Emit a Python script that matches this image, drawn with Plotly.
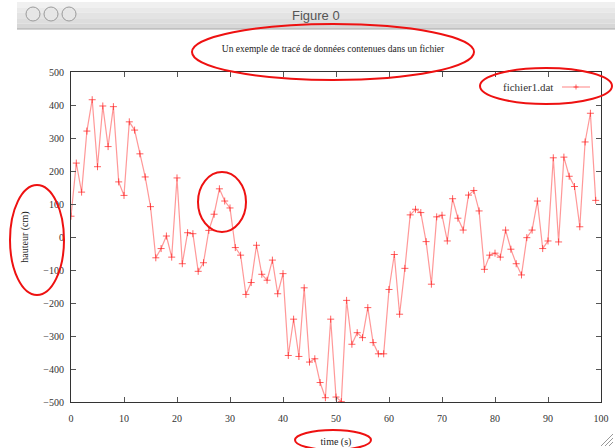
import plotly.graph_objects as go

# hauteur (cm) relevée à chaque pas de temps (s), contenu de fichier1.dat
hauteur = [
    63, 224, 136, 321, 416, 213, 397, 274, 395, 167,
    126, 349, 324, 252, 182, 92, -63, -35, 3, -61,
    179, -81, 13, 10, -104, -78, 20, 69, 146, 109,
    88, -32, -55, -174, -138, -25, -113, -131, -70, -172,
    -111, -359, -249, -362, -154, -379, -369, -441, -487, -249,
    -485, -499, -192, -325, -290, -305, -214, -320, -354, -354,
    -159, -53, -234, -95, 67, 84, 74, -14, -143, 61,
    66, -12, 116, 57, 21, 127, 141, 79, -98, -55,
    -49, -61, 21, -37, -81, -115, -2, 21, 109, -35,
    -12, 240, -15, 242, 184, 153, 31, 288, 375, 111,
]
temps = list(range(len(hauteur)))

x_ticks = [0, 10, 20, 30, 40, 50, 60, 70, 80, 90, 100]
y_ticks = [-500, -400, -300, -200, -100, 0, 100, 200, 300, 400, 500]

titre = "Un exemple de tracé de données contenues dans un fichier"
nom_serie = "fichier1.dat"

W, H = 615, 448
L, R, T, B = 71, 601, 72, 402  # plot area in pixels

def px(x):
    return (x - L) / (R - L)

def py(y):
    return (B - y) / (B - T)

SERIE = "rgba(255,50,50,0.5)"
MARK = "rgba(255,30,30,0.7)"
SERIF = "Liberation Serif, Times New Roman, serif"

fig = go.Figure()
fig.add_trace(go.Scatter(
    x=temps, y=hauteur, mode="lines+markers", name=nom_serie,
    line=dict(color=SERIE, width=1.2),
    marker=dict(symbol="cross-thin", size=5, line=dict(color=MARK, width=1)),
    showlegend=False,
))

shapes = []
annotations = []

# window title bar
bands = ["#f0f0f0", "#e9e9e9", "#e3e3e3", "#dddddd", "#d7d7d7"]
top, bot = 2, 29
step = (bot - top) / len(bands)
for i, c in enumerate(bands):
    shapes.append(dict(type="rect", xref="paper", yref="paper",
                       x0=px(17), x1=px(615), y0=py(top + (i + 1) * step), y1=py(top + i * step),
                       fillcolor=c, line=dict(width=0), layer="below"))
shapes.append(dict(type="line", xref="paper", yref="paper",
                   x0=px(17), x1=px(615), y0=py(bot), y1=py(bot),
                   line=dict(color="#a8a8a8", width=1)))
for cx in (33, 51, 69):
    shapes.append(dict(type="circle", xref="paper", yref="paper",
                       x0=px(cx - 7), x1=px(cx + 7), y0=py(21), y1=py(7),
                       fillcolor="#e6e6e6", line=dict(color="#9a9a9a", width=1)))
annotations.append(dict(text="Figure 0", xref="paper", yref="paper",
                        x=px(316), y=py(15), xanchor="center", yanchor="middle", showarrow=False,
                        font=dict(family="Liberation Sans, Arial, sans-serif", size=13, color="#555555")))

# legend drawn gnuplot style: label then sample on the right
ly = py(87)
annotations.append(dict(text=nom_serie, xref="paper", yref="paper",
                        x=px(555), y=ly, xanchor="right", yanchor="middle", showarrow=False,
                        font=dict(family=SERIF, size=11, color="#333333")))
shapes.append(dict(type="line", xref="paper", yref="paper",
                   x0=px(562), x1=px(590), y0=ly, y1=ly,
                   line=dict(color=SERIE, width=1.2)))
shapes.append(dict(type="line", xref="paper", yref="paper",
                   x0=px(573.5), x1=px(578.5), y0=ly, y1=ly,
                   line=dict(color=MARK, width=1)))
shapes.append(dict(type="line", xref="paper", yref="paper",
                   x0=px(576), x1=px(576), y0=py(84.5), y1=py(89.5),
                   line=dict(color=MARK, width=1)))

# red hand-drawn highlight ellipses
def ellipse(cx, cy, rx, ry):
    shapes.append(dict(type="circle", xref="paper", yref="paper",
                       x0=px(cx - rx), x1=px(cx + rx), y0=py(cy + ry), y1=py(cy - ry),
                       line=dict(color="#ee1111", width=2)))

ellipse(333, 52, 141, 28)   # title
ellipse(546, 86, 66, 18)    # legend
ellipse(37, 240, 27, 55)    # y label
ellipse(222, 202, 24, 30)   # peak
ellipse(333, 440, 38, 10)   # x label

# resize grip
for d in (4, 8, 12):
    shapes.append(dict(type="line", xref="paper", yref="paper",
                       x0=px(613 - d), x1=px(613), y0=py(446), y1=py(446 - d),
                       line=dict(color="#999999", width=1)))

axis_common = dict(
    showgrid=False, zeroline=False, ticks="inside", ticklen=5, tickwidth=1,
    tickcolor="#555555", showline=True, linecolor="#333333", linewidth=1.2,
    mirror="ticks", automargin=False,
    tickfont=dict(family=SERIF, size=10, color="#333333"),
)

fig.update_layout(
    width=W, height=H,
    margin=dict(l=L, r=W - R, t=T, b=H - B),
    paper_bgcolor="white", plot_bgcolor="white",
    title=dict(text=titre, xref="paper", x=px(333), y=1 - 49 / H,
               xanchor="center", yanchor="middle", automargin=False,
               font=dict(family=SERIF, size=9.5, color="#222222")),
    xaxis=dict(range=[0, 100], tickvals=x_ticks, ticklabelstandoff=7, **axis_common,
               title=dict(text="time (s)", standoff=14,
                          font=dict(family=SERIF, size=10, color="#222222"))),
    yaxis=dict(range=[-500, 500], tickvals=y_ticks, ticklabelstandoff=4, **axis_common,
               title=dict(text="hauteur (cm)", standoff=12,
                          font=dict(family=SERIF, size=10, color="#222222"))),
    shapes=shapes, annotations=annotations,
)

fig.write_html("out.html")
